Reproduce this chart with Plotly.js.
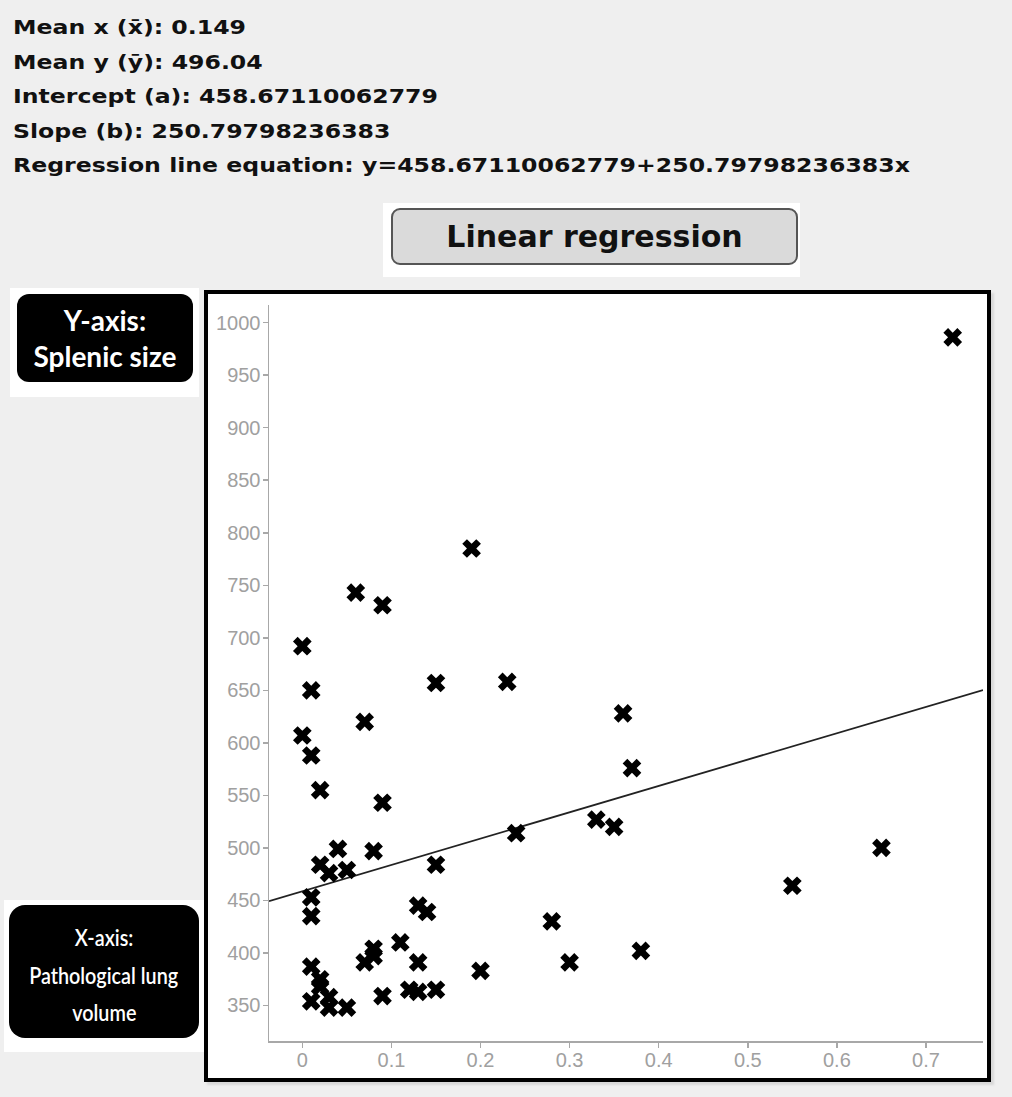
<!DOCTYPE html>
<html><head><meta charset="utf-8">
<script src="https://cdn.plot.ly/plotly-3.0.1.min.js"></script>
<style>
html,body{margin:0;padding:0;}
body{background:#efefef;width:1012px;height:1097px;position:relative;overflow:hidden;font-family:"DejaVu Sans",Verdana,sans-serif;}
.stats{position:absolute;left:13px;top:10px;font-weight:bold;font-size:20px;line-height:34.5px;color:#111;white-space:nowrap;transform:scaleX(1.18);transform-origin:0 0;}
.btnback{position:absolute;left:383px;top:203px;width:417px;height:74px;background:#fff;}
.btn{position:absolute;left:391px;top:208px;width:403px;height:53px;background:#dadada;border:2px solid #555;border-radius:9px;font-weight:bold;font-size:30px;text-align:center;line-height:53px;color:#111;}
.back{position:absolute;background:#fff;}
.lab{position:absolute;background:#000;color:#fff;font-family:Lato,"Open Sans",sans-serif;font-weight:bold;text-align:center;display:flex;flex-direction:column;justify-content:center;align-items:center;}
.lab div{white-space:nowrap;}
.cond div{transform:scaleX(0.86);}
#box{position:absolute;left:204px;top:290px;width:779px;height:784px;border:4px solid #000;background:#fff;box-shadow:3px 3px 2px #d8d8d8;}
#plot{position:absolute;left:0;top:0;width:779px;height:784px;}
</style>
</head><body>
<div class="stats">
<div id="l1"></div><div id="l2"></div><div id="l3"></div><div id="l4"></div><div id="l5"></div>
</div>
<div class="btnback"></div>
<div class="btn">Linear regression</div>
<div class="back" style="left:10px;top:288px;width:189px;height:109px;"></div>
<div class="lab" style="left:17px;top:294px;width:176px;height:88px;border-radius:12px;font-size:28px;line-height:36px;"><div>Y-axis:</div><div>Splenic size</div></div>
<div class="back" style="left:4px;top:900px;width:202px;height:152px;"></div>
<div class="lab cond" style="left:9px;top:905px;width:190px;height:133px;border-radius:16px;font-size:23px;line-height:37.5px;font-weight:600;padding-top:8px;box-sizing:border-box;"><div>X-axis:</div><div>Pathological lung</div><div>volume</div></div>
<div id="box"><div id="plot"></div></div>
<script>
// Data
const lungVolume = [0.06,0.09,0,0.01,0.15,0.07,0,0.01,0.02,0.09,
  0.04,0.08,0.02,0.03,0.05,0.15,0.01,0.01,0.13,0.14,
  0.11,0.08,0.07,0.08,0.13,0.2,0.01,0.02,0.02,0.03,
  0.01,0.03,0.05,0.09,0.12,0.13,0.15,0.23,0.36,0.37,
  0.24,0.33,0.35,0.65,0.55,0.28,0.38,0.3,0.73,0.19];
const splenicSize = [743,731,692,650,657,620,607,588,555,543,
  499,497,484,476,479,484,453,435,445,439,
  410,404,391,397,391,383,387,375,368,358,
  354,348,348,359,365,363,365,658,628,576,
  514,527,520,500,464,430,402,391,986,785];
const meanX = "0.149";
const meanY = "496.04";
const intercept = 458.67110062779;
const slope = 250.79798236383;
const interceptText = "458.67110062779";
const slopeText = "250.79798236383";
const xTickVals = [0,0.1,0.2,0.3,0.4,0.5,0.6,0.7];
const xTickText = ["0","0.1","0.2","0.3","0.4","0.5","0.6","0.7"];
const yTickVals = [350,400,450,500,550,600,650,700,750,800,850,900,950,1000];

document.getElementById('l1').textContent = "Mean x (x\u0304): " + meanX;
document.getElementById('l2').textContent = "Mean y (y\u0304): " + meanY;
document.getElementById('l3').textContent = "Intercept (a): " + interceptText;
document.getElementById('l4').textContent = "Slope (b): " + slopeText;
document.getElementById('l5').textContent = "Regression line equation: y=" + interceptText + "+" + slopeText + "x";

const xRange = [-0.0374, 0.764];
const yRange = [316.2, 1016.8];
const lineX = xRange.slice();
const lineY = lineX.map(v => intercept + slope * v);

const axisCommon = {
  showline: true, linecolor: '#a8a8a8', linewidth: 1.5,
  ticks: 'outside', ticklen: 5, tickcolor: '#a8a8a8', tickwidth: 1.5,
  tickfont: {family: 'Liberation Sans, Arial, sans-serif', size: 20, color: '#a0a0a0'},
  showgrid: false, zeroline: false, fixedrange: true
};

Plotly.newPlot('plot', [
  {x: lineX, y: lineY, mode: 'lines', type: 'scatter', line: {color: '#222', width: 1.8}, hoverinfo: 'skip'},
  {x: lungVolume, y: splenicSize, mode: 'markers', type: 'scatter',
   marker: {symbol: 'x', size: 16.5, color: '#000', line: {width: 0}}}
], {
  width: 779, height: 784,
  margin: {l: 61, r: 4, t: 11, b: 37},
  paper_bgcolor: '#fff', plot_bgcolor: '#fff',
  showlegend: false,
  xaxis: Object.assign({}, axisCommon, {range: xRange, tickvals: xTickVals, ticktext: xTickText, ticklabelstandoff: -5}),
  yaxis: Object.assign({}, axisCommon, {range: yRange, tickvals: yTickVals, ticklabelstandoff: -2})
}, {displayModeBar: false, staticPlot: true});
</script>
</body></html>
